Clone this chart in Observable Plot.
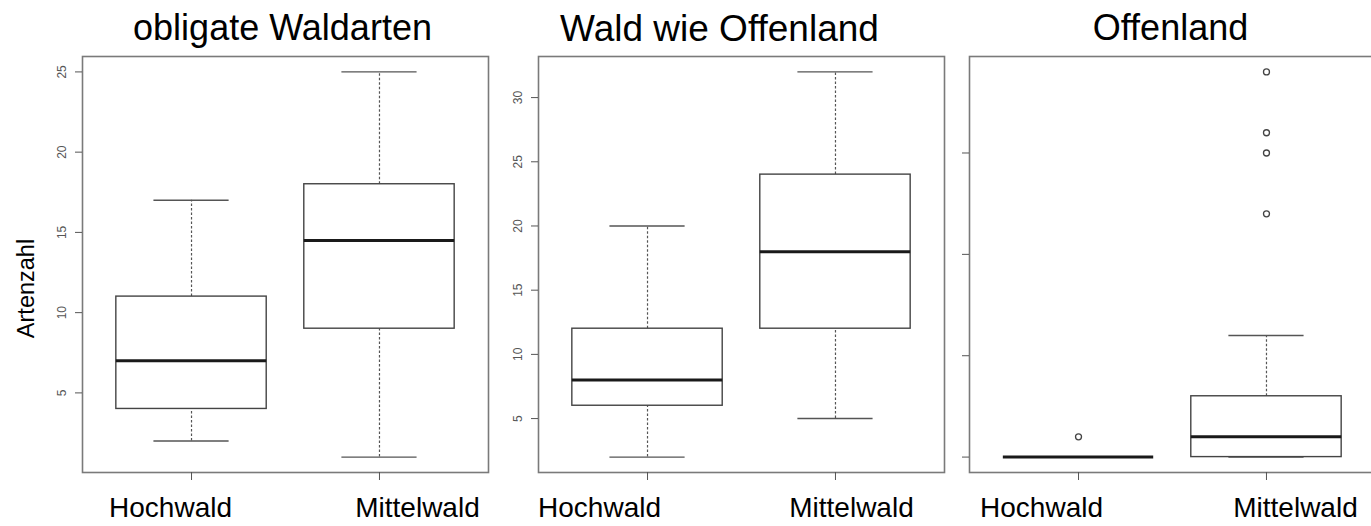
<!DOCTYPE html>
<html>
<head>
<meta charset="utf-8">
<script src="https://cdn.jsdelivr.net/npm/d3@7"></script>
<script src="https://cdn.jsdelivr.net/npm/@observablehq/plot@0.6"></script>
<style>
  html, body { margin: 0; padding: 0; background: #fff; }
  body { width: 1371px; height: 526px; overflow: hidden; position: relative;
         font-family: "Liberation Sans", Arial, sans-serif; }
  .panel { position: absolute; top: 0; }
</style>
</head>
<body>
<script>
// Groups on the x axis of every panel
const groups = ["Hochwald", "Mittelwald"];

// obligate Waldarten: whisker ends, quartiles and medians per group
const waldLow = [2, 1];
const waldQ1 = [4, 9];
const waldMedian = [7, 14.5];
const waldQ3 = [11, 18];
const waldHigh = [17, 25];
const waldOutliers = [[], []];
const waldTicks = [5, 10, 15, 20, 25];

// Wald wie Offenland
const wwoLow = [2, 5];
const wwoQ1 = [6, 12];
const wwoMedian = [8, 18];
const wwoQ3 = [12, 24];
const wwoHigh = [20, 32];
const wwoOutliers = [[], []];
const wwoTicks = [5, 10, 15, 20, 25, 30];

// Offenland
const offLow = [0, 0];
const offQ1 = [0, 0];
const offMedian = [0, 1];
const offQ3 = [0, 3];
const offHigh = [0, 6];
const offOutliers = [[1], [12, 15, 16, 19]];
const offTicks = [0, 5, 10, 15];

const panels = [
  {title: "obligate Waldarten", low: waldLow, q1: waldQ1, med: waldMedian, q3: waldQ3, high: waldHigh,
   out: waldOutliers, ticks: waldTicks, tickLabels: true, yLabel: "Artenzahl",
   frameLeft: 82.3, titleDx: -3, titleSize: 36, labelDx: [-21, 38]},
  {title: "Wald wie Offenland", low: wwoLow, q1: wwoQ1, med: wwoMedian, q3: wwoQ3, high: wwoHigh,
   out: wwoOutliers, ticks: wwoTicks, tickLabels: true, yLabel: null,
   frameLeft: 538.3, titleDx: -22, titleSize: 37, labelDx: [-48, 16]},
  {title: "Offenland", low: offLow, q1: offQ1, med: offMedian, q3: offQ3, high: offHigh,
   out: offOutliers, ticks: offTicks, tickLabels: false, yLabel: null,
   frameLeft: 969.3, titleDx: -2, titleSize: 36, labelDx: [-37, 29]}
];

const M = {left: 82, right: 10, top: 56, bottom: 54};
const frameWidth = 406;
const boxHalf = 0.4, capHalf = 0.2;

function boxPanel(p) {
  const rows = groups.map((name, i) => ({
    name, g: i + 1, low: p.low[i], q1: p.q1[i], med: p.med[i], q3: p.q3[i], high: p.high[i]
  }));
  const outl = p.out.flatMap((vals, i) => vals.map(v => ({g: i + 1, v})));
  const all = [...p.low, ...p.high, ...outl.map(d => d.v)];
  const lo = d3.min(all), hi = d3.max(all), pad = (hi - lo) * 0.04;

  const whisker = {stroke: "#555", strokeWidth: 1.2, strokeDasharray: "2.5,2"};
  const cap = {x1: d => d.g - capHalf, x2: d => d.g + capHalf, stroke: "#555", strokeWidth: 1.4};

  const marks = [
    Plot.ruleX(rows, {x: "g", y1: "q3", y2: "high", ...whisker}),
    Plot.ruleX(rows, {x: "g", y1: "low", y2: "q1", ...whisker}),
    Plot.ruleY(rows, {y: "high", ...cap}),
    Plot.ruleY(rows, {y: "low", ...cap}),
    Plot.rect(rows, {x1: d => d.g - boxHalf, x2: d => d.g + boxHalf, y1: "q1", y2: "q3",
                     fill: "white", stroke: "#444", strokeWidth: 1.4}),
    Plot.ruleY(rows, {y: "med", x1: d => d.g - boxHalf, x2: d => d.g + boxHalf,
                      stroke: "#1a1a1a", strokeWidth: 3}),
    Plot.dot(outl, {x: "g", y: "v", r: 3, fill: "none", stroke: "#444", strokeWidth: 1.3}),
    Plot.frame({stroke: "#7a7a7a", strokeWidth: 1.6}),
    Plot.axisY({ticks: p.ticks, tickSize: 7, tickPadding: 10, tickRotate: -90,
                tickFormat: p.tickLabels ? d => String(d) : () => "",
                textAnchor: "middle", lineAnchor: "bottom",
                fontSize: 12, color: "#555", label: null}),
    Plot.axisX({ticks: [1, 2], tickSize: 8, tickFormat: () => "", color: "#555", label: null}),
    ...rows.map((r, i) => Plot.text([r], {x: "g", text: "name", frameAnchor: "bottom", dy: 44,
                                          dx: p.labelDx[i], fontSize: 28, fill: "#000"})),
    Plot.text([p.title], {frameAnchor: "top", dy: -42, dx: p.titleDx, fontSize: p.titleSize, fill: "#000"})
  ];
  if (p.yLabel) {
    marks.push(Plot.text([p.yLabel], {frameAnchor: "left", textAnchor: "middle", rotate: -90,
                                      dx: -56, dy: 24, fontSize: 23.5, fill: "#000"}));
  }

  const svg = Plot.plot({
    width: M.left + frameWidth + M.right,
    height: 526,
    marginLeft: M.left, marginRight: M.right, marginTop: M.top, marginBottom: M.bottom,
    style: {background: "transparent", fontFamily: "'Liberation Sans', Arial, sans-serif", overflow: "visible"},
    x: {domain: [0.42, 2.58]},
    y: {domain: [lo - pad, hi + pad]},
    marks
  });
  svg.classList.add("panel");
  svg.style.left = (p.frameLeft - M.left) + "px";
  return svg;
}

for (const p of panels) document.body.appendChild(boxPanel(p));
</script>
</body>
</html>
